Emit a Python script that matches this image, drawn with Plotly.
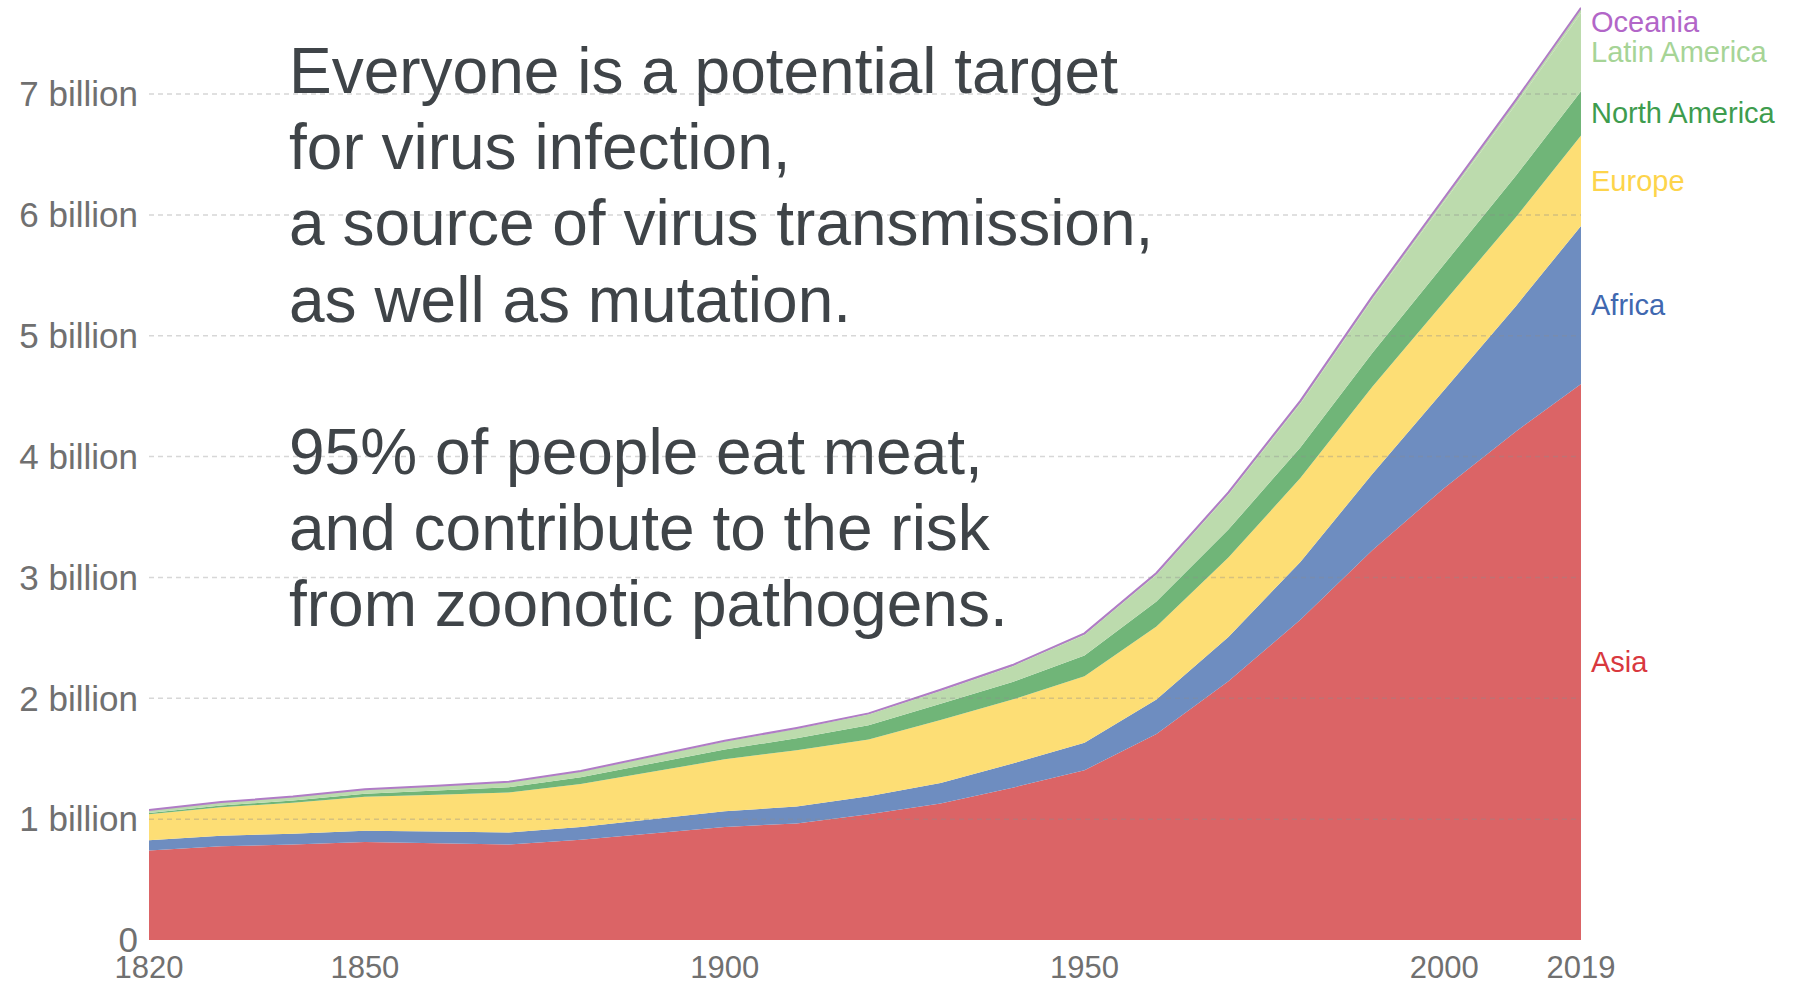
import plotly.graph_objects as go

# world population by region (billions)
years = [1820, 1830, 1840, 1850, 1860, 1870, 1880, 1890, 1900, 1910, 1920,
         1930, 1940, 1950, 1960, 1970, 1980, 1990, 2000, 2010, 2019]

asia = [0.740, 0.775, 0.790, 0.810, 0.800, 0.790, 0.830, 0.885, 0.935, 0.965, 1.040,
        1.130, 1.260, 1.405, 1.705, 2.142, 2.650, 3.226, 3.741, 4.210, 4.601]
africa = [0.085, 0.088, 0.090, 0.095, 0.097, 0.100, 0.105, 0.115, 0.130, 0.140, 0.150,
          0.170, 0.200, 0.228, 0.285, 0.366, 0.478, 0.630, 0.811, 1.039, 1.308]
europe = [0.215, 0.235, 0.255, 0.280, 0.305, 0.330, 0.355, 0.390, 0.430, 0.465, 0.470,
          0.520, 0.530, 0.549, 0.605, 0.657, 0.694, 0.721, 0.726, 0.736, 0.747]
north_america = [0.011, 0.015, 0.020, 0.026, 0.035, 0.044, 0.056, 0.069, 0.082, 0.099, 0.116,
                 0.134, 0.144, 0.173, 0.205, 0.231, 0.254, 0.280, 0.312, 0.343, 0.367]
latin_america = [0.022, 0.026, 0.030, 0.035, 0.037, 0.040, 0.048, 0.056, 0.065, 0.078, 0.090,
                 0.107, 0.130, 0.169, 0.221, 0.288, 0.362, 0.442, 0.522, 0.591, 0.648]
oceania = [0.002, 0.002, 0.002, 0.002, 0.003, 0.005, 0.005, 0.006, 0.006, 0.008, 0.009,
           0.010, 0.011, 0.013, 0.016, 0.020, 0.023, 0.027, 0.031, 0.037, 0.042]

region_names = ["Asia", "Africa", "Europe", "North America", "Latin America", "Oceania"]
region_values = [asia, africa, europe, north_america, latin_america, oceania]

fill_colors = ["#db6466", "#6e8dc0", "#fdde75", "#70b578", "#bcdbad", "#bcdbad"]
label_colors = ["#d9383e", "#4068b0", "#fdd44b", "#3e9c4e", "#a6d496", "#b266c8"]

x_ticks = [1820, 1850, 1900, 1950, 2000, 2019]
y_ticks = [0, 1, 2, 3, 4, 5, 6, 7]
y_tick_text = ["0"] + [f"{v} billion" for v in y_ticks[1:]]

text_top = ["Everyone is a potential target",
            "for virus infection,",
            "a source of virus transmission,",
            "as well as mutation."]
text_bottom = ["95% of people eat meat,",
               "and contribute to the risk",
               "from zoonotic pathogens."]

fig = go.Figure()

for name, vals, col in zip(region_names, region_values, fill_colors):
    line = dict(width=0, color=col)
    if name == "Oceania":
        line = dict(width=2, color="#b07cc6")
    fig.add_trace(go.Scatter(x=years, y=[v * 1e9 for v in vals], name=name,
                             mode="lines", stackgroup="pop", line=line,
                             fillcolor=col, hoverinfo="skip"))

# region labels at the right, centred on each band at the last year
annotations = []
base = 0
for name, vals, col in zip(region_names, region_values, label_colors):
    mid = base + vals[-1] / 2
    base += vals[-1]
    annotations.append(dict(x=years[-1], y=mid * 1e9, xref="x", yref="y", text=name,
                            showarrow=False, xanchor="left", yanchor="middle",
                            xshift=8, yshift=-12 if name == "Oceania" else 0,
                            font=dict(size=29, color=col)))

plot_h = 940
line_step = 76.2
rows = [(i, t) for i, t in enumerate(text_top)] + \
       [(i + len(text_top) + 1, t) for i, t in enumerate(text_bottom)]
for i, t in rows:
    ypix = 71 + i * line_step
    annotations.append(dict(x=0.0965, y=1 - ypix / plot_h, xref="paper", yref="paper",
                            text=t, showarrow=False, xanchor="left", yanchor="middle",
                            font=dict(size=64, color="#3f4448")))

# dashed grid drawn above the areas
shapes = [dict(type="line", xref="paper", x0=0, x1=1, yref="y", y0=v * 1e9, y1=v * 1e9,
               layer="above", line=dict(color="rgba(140,140,140,0.35)", width=1.5,
                                        dash="5px,4px"))
          for v in y_ticks[1:]]

fig.update_layout(
    width=1798, height=986,
    margin=dict(l=149, r=217, t=0, b=46),
    plot_bgcolor="white", paper_bgcolor="white",
    showlegend=False,
    font=dict(family="Liberation Sans, Arial, sans-serif"),
    annotations=annotations,
    shapes=shapes,
    xaxis=dict(range=[1820, 2019], tickvals=x_ticks, showgrid=False, zeroline=False,
               showline=False, ticks="", ticklabelstandoff=6, automargin=False,
               tickfont=dict(size=31, color="#707070")),
    yaxis=dict(range=[0, 7.778e9], tickvals=[v * 1e9 for v in y_ticks], ticktext=y_tick_text,
               showgrid=False, zeroline=False, showline=False, ticks="", automargin=False,
               ticklabelstandoff=10, tickfont=dict(size=35, color="#707070")),
)

# drop the browser's default body margin so the figure sits at the page corner
fig.write_html("out.html", config={"displayModeBar": False},
               post_script="document.body.style.margin='0px';")
